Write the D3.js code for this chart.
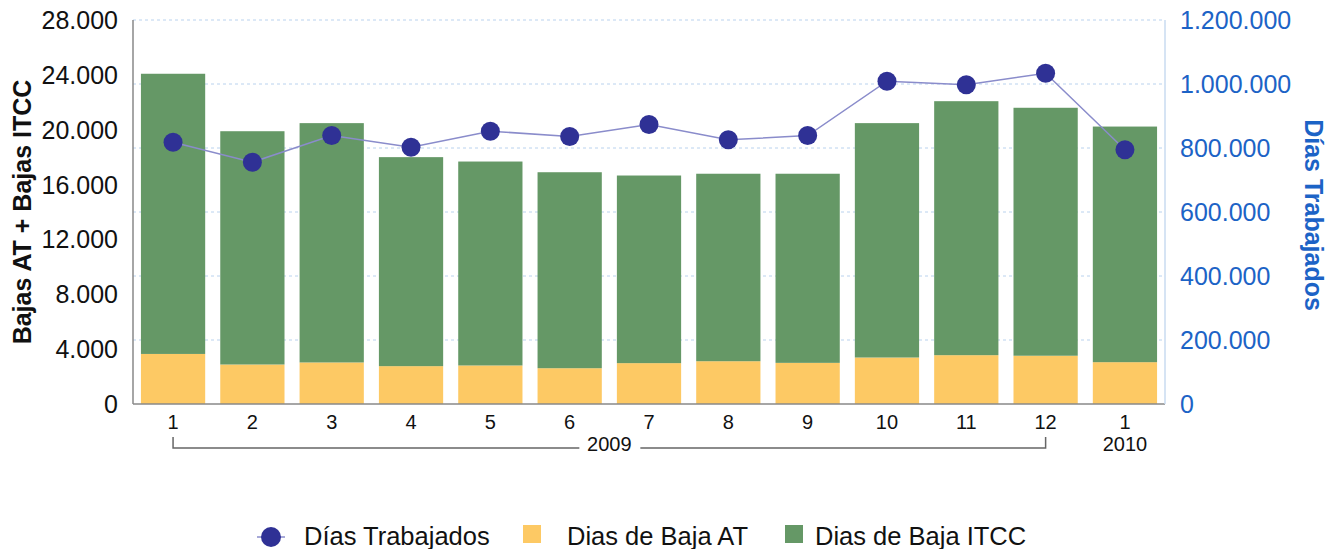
<!DOCTYPE html>
<html lang="es">
<head>
  <meta charset="UTF-8">
  <script type="text/javascript" src="https://cdn.jsdelivr.net/npm/d3@7/dist/d3.min.js"></script>
  <title>Bajas AT + ITCC y Días Trabajados</title>
  <style>
    body { margin: 0; background: white; }
    text { font-family: 'Liberation Sans', Arial, sans-serif; fill: #111; }
    .tick_left { font-size: 25px; }
    .tick_right { font-size: 25px; fill: #1c63c6; }
    .tick_x { font-size: 20px; }
    .axis_title { font-size: 25px; font-weight: bold; }
    .legend_text { font-size: 25.5px; }
    .grid { stroke: #b9d2ee; stroke-width: 1; stroke-dasharray: 3,3; }
  </style>
</head>
<body>
<div id="chart"></div>

<script>
  // data
  var months = ["1", "2", "3", "4", "5", "6", "7", "8", "9", "10", "11", "12", "1"];
  var years = ["2009", "2010"];
  var bajaAT = [3650, 2880, 3030, 2760, 2810, 2610, 2980, 3120, 3000, 3390, 3560, 3520, 3050];
  var bajaITCC = [20430, 17010, 17450, 15240, 14870, 14290, 13680, 13670, 13790, 17090, 18520, 18080, 17180];
  var diasTrabajados = [818000, 755600, 839000, 802500, 852500, 836000, 873400, 825600, 839000, 1008800, 997500, 1033800, 794400];
  var leftTicks = [0, 4000, 8000, 12000, 16000, 20000, 24000, 28000];
  var rightTicks = [0, 200000, 400000, 600000, 800000, 1000000, 1200000];

  var W = 1337, H = 549,
    plotLeft = 133, plotRight = 1165,
    plotTop = 20, plotBottom = 404;

  var loc = d3.formatLocale({ decimal: ",", thousands: ".", grouping: [3], currency: ["", ""] });
  var fmt = loc.format(",d");

  var svg = d3.select("#chart")
    .append("svg")
    .attr("width", W)
    .attr("height", H);

  var idx = months.map(function(d, i) { return i; });

  var xScale = d3.scaleBand()
    .domain(idx)
    .range([plotLeft, plotRight])
    .paddingInner(0.19)
    .paddingOuter(0.1);

  var yLeft = d3.scaleLinear()
    .domain([0, 28000])
    .range([plotBottom, plotTop]);

  var yRight = d3.scaleLinear()
    .domain([0, 1200000])
    .range([plotBottom, plotTop]);

  // dashed gridlines from right axis
  svg.append("g")
    .selectAll("line")
    .data(rightTicks.slice(1))
    .enter()
    .append("line")
    .attr("class", "grid")
    .attr("x1", plotLeft)
    .attr("x2", plotRight)
    .attr("y1", function(d) { return yRight(d); })
    .attr("y2", function(d) { return yRight(d); });

  // stacked bars
  var bars = svg.append("g");
  bars.selectAll("rect.at")
    .data(idx)
    .enter()
    .append("rect")
    .attr("class", "at")
    .attr("x", function(i) { return xScale(i); })
    .attr("width", xScale.bandwidth())
    .attr("y", function(i) { return yLeft(bajaAT[i]); })
    .attr("height", function(i) { return yLeft(0) - yLeft(bajaAT[i]); })
    .style("fill", "#fdc964");

  bars.selectAll("rect.itcc")
    .data(idx)
    .enter()
    .append("rect")
    .attr("class", "itcc")
    .attr("x", function(i) { return xScale(i); })
    .attr("width", xScale.bandwidth())
    .attr("y", function(i) { return yLeft(bajaAT[i] + bajaITCC[i]); })
    .attr("height", function(i) { return yLeft(bajaAT[i]) - yLeft(bajaAT[i] + bajaITCC[i]); })
    .style("fill", "#659866");

  // axis lines
  svg.append("line")
    .attr("x1", plotLeft).attr("x2", plotLeft)
    .attr("y1", plotTop).attr("y2", plotBottom)
    .style("stroke", "#888").style("stroke-width", 1.5);
  svg.append("line")
    .attr("x1", plotLeft).attr("x2", plotRight)
    .attr("y1", plotBottom).attr("y2", plotBottom)
    .style("stroke", "#888").style("stroke-width", 1.5);
  svg.append("line")
    .attr("x1", plotRight).attr("x2", plotRight)
    .attr("y1", plotTop).attr("y2", plotBottom)
    .style("stroke", "#c8dbf0").style("stroke-width", 1.5);

  // line + markers
  var cx = function(i) { return xScale(i) + xScale.bandwidth() / 2; };
  var line = d3.line()
    .x(function(i) { return cx(i); })
    .y(function(i) { return yRight(diasTrabajados[i]); });

  svg.append("path")
    .datum(idx)
    .attr("d", line)
    .style("fill", "none")
    .style("stroke", "#8a8ccb")
    .style("stroke-width", 1.5);

  svg.append("g")
    .selectAll("circle")
    .data(idx)
    .enter()
    .append("circle")
    .attr("cx", function(i) { return cx(i); })
    .attr("cy", function(i) { return yRight(diasTrabajados[i]); })
    .attr("r", 9.5)
    .style("fill", "#2f3195");

  // left ticks
  svg.append("g")
    .selectAll("text")
    .data(leftTicks)
    .enter()
    .append("text")
    .attr("class", "tick_left")
    .attr("x", 118)
    .attr("y", function(d) { return yLeft(d); })
    .attr("dy", "0.36em")
    .style("text-anchor", "end")
    .text(function(d) { return fmt(d); });

  // right ticks
  svg.append("g")
    .selectAll("text")
    .data(rightTicks)
    .enter()
    .append("text")
    .attr("class", "tick_right")
    .attr("x", 1180)
    .attr("y", function(d) { return yRight(d); })
    .attr("dy", "0.36em")
    .text(function(d) { return fmt(d); });

  // month labels
  svg.append("g")
    .selectAll("text")
    .data(idx)
    .enter()
    .append("text")
    .attr("class", "tick_x")
    .attr("x", function(i) { return cx(i); })
    .attr("y", 429)
    .style("text-anchor", "middle")
    .text(function(i) { return months[i]; });

  // year bracket for 2009
  var bx0 = cx(0), bx1 = cx(11), by = 448, bmid = (bx0 + bx1) / 2;
  var bracket = svg.append("g").style("stroke", "#666").style("stroke-width", 1.5).style("fill", "none");
  bracket.append("path")
    .attr("d", "M" + bx0 + "," + 437 + "V" + by + "H" + (bmid - 30));
  bracket.append("path")
    .attr("d", "M" + (bmid + 31) + "," + by + "H" + bx1 + "V" + 437);

  svg.append("text")
    .attr("class", "tick_x")
    .attr("x", bmid)
    .attr("y", 451)
    .style("text-anchor", "middle")
    .text(years[0]);

  svg.append("text")
    .attr("class", "tick_x")
    .attr("x", cx(12))
    .attr("y", 451)
    .style("text-anchor", "middle")
    .text(years[1]);

  // axis titles
  svg.append("text")
    .attr("class", "axis_title")
    .attr("transform", "translate(31,212) rotate(-90)")
    .style("text-anchor", "middle")
    .text("Bajas AT + Bajas ITCC");

  svg.append("text")
    .attr("class", "axis_title")
    .attr("transform", "translate(1305,215) rotate(90)")
    .style("text-anchor", "middle")
    .style("fill", "#1c63c6")
    .text("Días Trabajados");

  // legend
  var lg = svg.append("g");
  lg.append("line")
    .attr("x1", 257).attr("x2", 285)
    .attr("y1", 537).attr("y2", 537)
    .style("stroke", "#8a8ccb").style("stroke-width", 1.5);
  lg.append("circle")
    .attr("cx", 271).attr("cy", 537).attr("r", 10)
    .style("fill", "#2f3195");
  lg.append("text")
    .attr("class", "legend_text")
    .attr("x", 304).attr("y", 545)
    .text("Días Trabajados");

  lg.append("rect")
    .attr("x", 523).attr("y", 525)
    .attr("width", 18).attr("height", 18)
    .style("fill", "#fdc964");
  lg.append("text")
    .attr("class", "legend_text")
    .attr("x", 567).attr("y", 545)
    .text("Dias de Baja AT");

  lg.append("rect")
    .attr("x", 785).attr("y", 525)
    .attr("width", 18).attr("height", 18)
    .style("fill", "#659866");
  lg.append("text")
    .attr("class", "legend_text")
    .attr("x", 815).attr("y", 545)
    .text("Dias de Baja ITCC");
</script>
</body>
</html>
